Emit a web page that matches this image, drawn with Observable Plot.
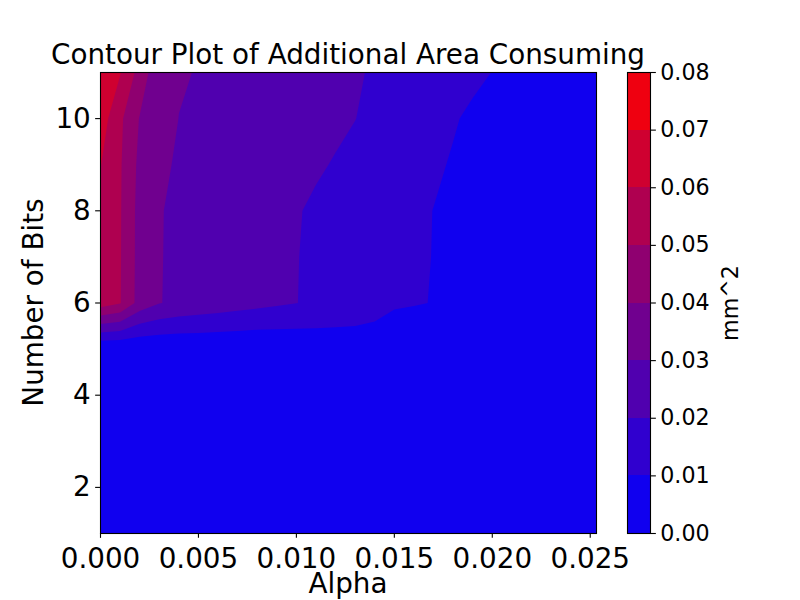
<!DOCTYPE html>
<html>
<head>
<meta charset="utf-8">
<script src="https://cdn.jsdelivr.net/npm/d3@7"></script>
<script src="https://cdn.jsdelivr.net/npm/@observablehq/plot@0.6"></script>
<style>
  html, body { margin: 0; padding: 0; background: white; }
  #wrap { position: relative; width: 800px; height: 600px; overflow: hidden; }
  #wrap svg { position: absolute; left: 0; top: 0; }
</style>
</head>
<body>
<div id="wrap"></div>
<script>
// ---- data ----
const alphas = [0, 0.001, 0.002, 0.003, 0.004, 0.005, 0.006, 0.007, 0.008, 0.009, 0.010, 0.011, 0.012,
  0.013, 0.014, 0.015, 0.016, 0.017, 0.018, 0.019, 0.020, 0.021, 0.022, 0.023, 0.024, 0.025];
const bits = [1, 2, 3, 4, 5, 6, 7, 8, 9, 10, 11];

// area (mm^2) for each number of bits, one value per alpha
const area1  = [0,0,0,0,0,0,0,0,0,0,0,0,0,0,0,0,0,0,0,0,0,0,0,0,0,0];
const area2  = [0,0,0,0,0,0,0,0,0,0,0,0,0,0,0,0,0,0,0,0,0,0,0,0,0,0];
const area3  = [0,0,0,0,0,0,0,0,0,0,0,0,0,0,0,0,0,0,0,0,0,0,0,0,0,0];
const area4  = [0.0001,0.0001,0.0001,0.0001,0.0001,0.0001,0.0001,0.0001,0.0001,0.0001,0.0001,0.0001,0.0001,0.0001,0.0001,0.0001,0.0001,0.0001,0.0001,0.0001,0.0001,0.0001,0.0001,0.0001,0.0001,0.0001];
const area5  = [0.0001,0.0002,0.0003,0.0008,0.0010,0.0011,0.0010,0.0010,0.0009,0.0015,0.0021,0.0027,0.0034,0.0042,0.0046,0.0002,0.0002,0.0002,0.0002,0.0002,0.0002,0.0002,0.0002,0.0002,0.0002,0.0002];
const area6  = [0.0550,0.0505,0.0362,0.0304,0.0278,0.0265,0.0252,0.0239,0.0226,0.0213,0.0201,0.0188,0.0174,0.0158,0.0136,0.0116,0.0107,0.0097,0.0085,0.0075,0.0067,0.0061,0.0056,0.0052,0.0049,0.0046];
const area7  = [0.0570,0.0507,0.0365,0.0305,0.0280,0.0267,0.0254,0.0241,0.0228,0.0215,0.0202,0.0188,0.0173,0.0158,0.0143,0.0128,0.0114,0.0098,0.0085,0.0075,0.0067,0.0061,0.0056,0.0052,0.0049,0.0046];
const area8  = [0.0575,0.0508,0.0366,0.0306,0.0280,0.0267,0.0254,0.0242,0.0229,0.0216,0.0204,0.0191,0.0176,0.0161,0.0146,0.0130,0.0115,0.0099,0.0086,0.0076,0.0068,0.0062,0.0057,0.0053,0.0050,0.0047];
const area9  = [0.0603,0.0510,0.0376,0.0322,0.0287,0.0276,0.0264,0.0253,0.0241,0.0230,0.0219,0.0207,0.0196,0.0179,0.0162,0.0145,0.0128,0.0111,0.0094,0.0081,0.0072,0.0065,0.0060,0.0055,0.0051,0.0048];
const area10 = [0.0652,0.0519,0.0395,0.0345,0.0299,0.0288,0.0277,0.0266,0.0255,0.0244,0.0233,0.0222,0.0211,0.0201,0.0182,0.0163,0.0144,0.0125,0.0106,0.0088,0.0076,0.0068,0.0062,0.0057,0.0053,0.0050];
const area11 = [0.0695,0.0606,0.0463,0.0323,0.0308,0.0296,0.0285,0.0274,0.0263,0.0252,0.0240,0.0229,0.0217,0.0206,0.0194,0.0178,0.0162,0.0147,0.0131,0.0115,0.0099,0.0085,0.0075,0.0068,0.0062,0.0057];

const levels = [0, 0.01, 0.02, 0.03, 0.04, 0.05, 0.06, 0.07, 0.08];
const levelColors = ["#1000ef", "#3000cf", "#5000af", "#70008f", "#8f0070", "#af0050", "#cf0030", "#ef0010"];
const xTicks = [0, 0.005, 0.010, 0.015, 0.020, 0.025];
const yTicks = [2, 4, 6, 8, 10];
const xMax = 0.02532;

const titleText = "Contour Plot of Additional Area Consuming";
const xLabel = "Alpha";
const yLabel = "Number of Bits";
const cbLabel = "mm^2";

// ---- build grid ----
const rows = [area1, area2, area3, area4, area5, area6, area7, area8, area9, area10, area11];
const grid = rows.flat();
const hx = (alphas[1] - alphas[0]) / 2;
const hy = (bits[1] - bits[0]) / 2;

const colorScale = {type: "threshold", domain: levels.slice(1, -1), range: levelColors};
const FS = 27.8, FS2 = 22.2, TICK = 4.86;

const main = Plot.plot({
  width: 800, height: 600,
  marginLeft: 100, marginRight: 204, marginTop: 72, marginBottom: 67,
  style: {fontFamily: "DejaVu Sans", fontSize: FS + "px", background: "transparent", overflow: "visible"},
  x: {domain: [0, xMax], label: null},
  y: {domain: [1, 11], label: null},
  color: colorScale,
  marks: [
    Plot.contour(grid, {
      width: alphas.length, height: bits.length,
      x1: alphas[0] - hx, x2: alphas[alphas.length - 1] + hx,
      y1: bits[0] - hy, y2: bits[bits.length - 1] + hy,
      fill: Plot.identity,
      thresholds: levels.slice(0, -1),
      clip: true
    }),
    Plot.frame({stroke: "black", strokeWidth: 1.1}),
    Plot.axisX({ticks: xTicks, tickFormat: d3.format(".3f"), tickSize: TICK, tickPadding: 9.5,
      fontSize: FS, strokeWidth: 1.1, label: null}),
    Plot.axisY({ticks: yTicks, tickFormat: d3.format("d"), tickSize: TICK, tickPadding: 4.86,
      fontSize: FS, strokeWidth: 1.1, label: null})
  ]
});

const cbData = levels.slice(0, -1).map((lo, i) => ({lo, hi: levels[i + 1]}));
const cbar = Plot.plot({
  width: 800, height: 600,
  marginLeft: 627, marginRight: 150, marginTop: 72, marginBottom: 67,
  style: {fontFamily: "DejaVu Sans", fontSize: FS2 + "px", background: "transparent", overflow: "visible"},
  x: {domain: [0, 1], axis: null},
  y: {domain: [levels[0], levels[levels.length - 1]], label: null},
  color: colorScale,
  marks: [
    Plot.rect(cbData, {x1: 0, x2: 1, y1: "lo", y2: "hi", fill: "lo", shapeRendering: "crispEdges"}),
    Plot.frame({stroke: "black", strokeWidth: 1.1}),
    Plot.axisY({anchor: "right", ticks: levels, tickFormat: d3.format(".2f"), tickSize: TICK,
      tickPadding: 4.86, fontSize: FS2, strokeWidth: 1.1, label: null})
  ]
});

const wrap = document.getElementById("wrap");
wrap.appendChild(main);
wrap.appendChild(cbar);

const s = d3.select(main);
s.append("text").attr("x", 348).attr("y", 64).attr("text-anchor", "middle")
  .attr("font-size", FS).attr("fill", "black").text(titleText);
s.append("text").attr("x", 348).attr("y", 593).attr("text-anchor", "middle")
  .attr("font-size", FS).attr("fill", "black").text(xLabel);
s.append("text").attr("transform", "translate(43,302.5) rotate(-90)").attr("text-anchor", "middle")
  .attr("font-size", FS).attr("fill", "black").text(yLabel);
d3.select(cbar).append("text").attr("transform", "translate(738,303) rotate(-90)").attr("text-anchor", "middle")
  .attr("font-size", FS2).attr("fill", "black").text(cbLabel);
</script>
</body>
</html>
